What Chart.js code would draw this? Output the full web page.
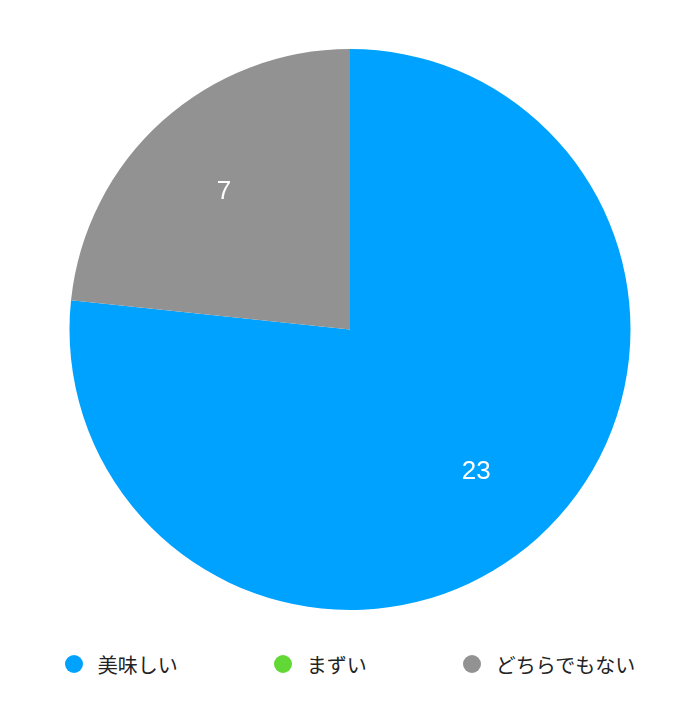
<!DOCTYPE html>
<html lang="ja">
<head>
<meta charset="utf-8">
<title>アンケート結果</title>
<script src="https://cdn.jsdelivr.net/npm/chart.js@4/dist/chart.umd.min.js"></script>
<style>
  html, body { margin: 0; padding: 0; background: #fff; }
  .chart-wrap { position: relative; width: 700px; height: 714px; }
  #legend {
    position: absolute; left: 0; top: 649px; width: 700px; height: 30px;
    display: flex; justify-content: center; align-items: center; gap: 96px;
    font-family: "Noto Sans CJK JP", sans-serif; font-size: 20px; color: #222;
  }
  #legend .item { display: flex; align-items: center; white-space: nowrap; }
  #legend .dot { width: 18px; height: 18px; border-radius: 50%; margin-right: 15px; }
</style>
</head>
<body>
<div class="chart-wrap">
  <canvas id="pie" width="700" height="634"></canvas>
  <div id="legend"></div>
</div>
<script>
const labels = ['美味しい', 'まずい', 'どちらでもない'];
const votes = [23, 0, 7];
const colors = ['#00A2FF', '#61D836', '#929292'];

// numbers inside the slices, two thirds of the way out
const sliceLabels = {
  id: 'sliceLabels',
  afterDatasetsDraw(chart) {
    const ctx = chart.ctx;
    const meta = chart.getDatasetMeta(0);
    ctx.save();
    ctx.fillStyle = '#fff';
    ctx.font = '26px "Liberation Sans", Arial, sans-serif';
    ctx.textAlign = 'center';
    ctx.textBaseline = 'middle';
    meta.data.forEach((arc, i) => {
      const value = chart.data.datasets[0].data[i];
      if (!value) return;
      const { x, y, startAngle, endAngle, outerRadius } = arc.getProps(['x', 'y', 'startAngle', 'endAngle', 'outerRadius'], true);
      const mid = (startAngle + endAngle) / 2;
      const r = outerRadius * 0.672;
      ctx.fillText(String(value), x + Math.cos(mid) * r, y + Math.sin(mid) * r + 2);
    });
    ctx.restore();
  }
};

// html legend built from the chart's own legend items
const htmlLegend = {
  id: 'htmlLegend',
  afterUpdate(chart) {
    const box = document.getElementById('legend');
    box.innerHTML = '';
    const items = chart.options.plugins.legend.labels.generateLabels(chart);
    items.forEach(item => {
      const el = document.createElement('div');
      el.className = 'item';
      const dot = document.createElement('span');
      dot.className = 'dot';
      dot.style.background = item.fillStyle;
      const text = document.createElement('span');
      text.textContent = item.text;
      el.appendChild(dot);
      el.appendChild(text);
      box.appendChild(el);
    });
  }
};

new Chart(document.getElementById('pie').getContext('2d'), {
  type: 'pie',
  data: {
    labels: labels,
    datasets: [{
      data: votes,
      backgroundColor: colors,
      borderWidth: 0,
    }]
  },
  options: {
    responsive: false,
    animation: false,
    layout: { padding: { top: 49, bottom: 24, left: 0, right: 0 } },
    plugins: {
      legend: { display: false },
      tooltip: { enabled: false },
    },
  },
  plugins: [sliceLabels, htmlLegend],
});
</script>
</body>
</html>
